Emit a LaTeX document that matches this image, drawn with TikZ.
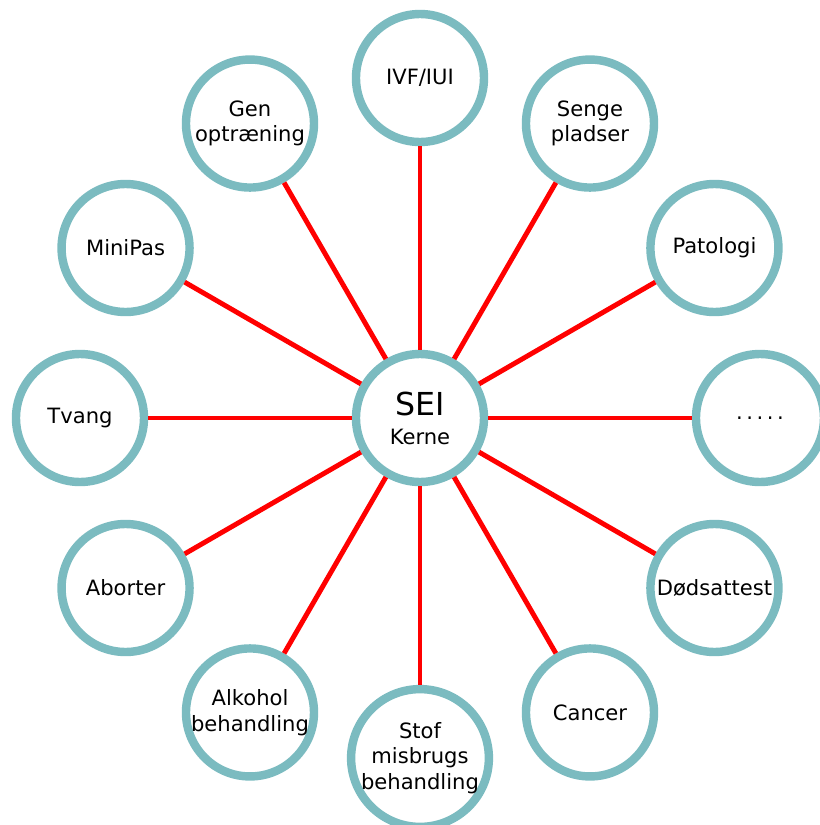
\documentclass[tikz,border=0pt]{standalone}
\usepackage{fontspec}
\setmainfont{DejaVu Sans}
\usetikzlibrary{positioning}
\definecolor{ringblue}{RGB}{123,187,192}
\tikzset{unit/.style={ % circle round each unit
circle, draw=ringblue, line width=4.8pt, fill=white,
minimum size=2.56cm, inner sep=0pt, align=center,
font=\fontsize{12}{14.5}\selectfont},
link/.style={ % red spokes
draw=red, line width=2.8pt}}

\begin{document}
\begin{tikzpicture}
    \useasboundingbox (-8.4,-8.14) rectangle (8.0,8.36);

    \node[unit] (c) at (0,0) {{\fontsize{18}{20}\selectfont SEI}\\[2pt]Kerne};
    \node[unit] (0) at (90:6.8) {IVF/IUI};
    \node[unit] (1) at (60:6.8) {Senge\\pladser};
    \node[unit] (2) at (30:6.8) {Patologi};
    \node[unit] (3) at (0:6.8) {\raisebox{-2pt}{.\,.\,.\,.\,.}};
    \node[unit] (4) at (-30:6.8) {Dødsattest};
    \node[unit] (5) at (-60:6.8) {Cancer};
    \node[unit] (6) at (-90:6.8) {Stof\\misbrugs\\behandling};
    \node[unit] (7) at (-120:6.8) {Alkohol\\behandling};
    \node[unit] (8) at (-150:6.8) {Aborter};
    \node[unit] (9) at (180:6.8) {Tvang};
    \node[unit] (10) at (150:6.8) {MiniPas};
    \node[unit] (11) at (120:6.8) {Gen\\optræning};

    \draw[link] (c) -- (0);
    \draw[link] (c) -- (1);
    \draw[link] (c) -- (2);
    \draw[link] (c) -- (3);
    \draw[link] (c) -- (4);
    \draw[link] (c) -- (5);
    \draw[link] (c) -- (6);
    \draw[link] (c) -- (7);
    \draw[link] (c) -- (8);
    \draw[link] (c) -- (9);
    \draw[link] (c) -- (10);
    \draw[link] (c) -- (11);

\end{tikzpicture}
\end{document}
